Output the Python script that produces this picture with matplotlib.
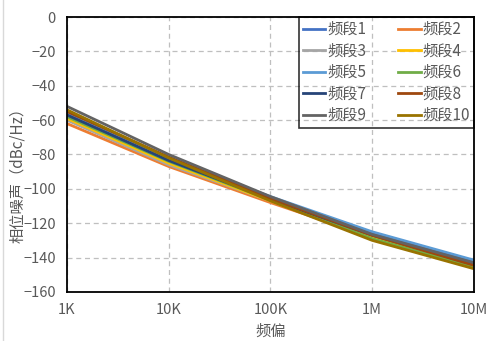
import matplotlib
matplotlib.use("Agg")
import matplotlib.pyplot as plt
from matplotlib.lines import Line2D

plt.rcParams["font.family"] = ["Noto Sans CJK SC", "DejaVu Sans"]
plt.rcParams["axes.unicode_minus"] = True

# offset frequency (Hz) and tick text
offsets = [1e3, 1e4, 1e5, 1e6, 1e7]
offset_labels = ["1K", "10K", "100K", "1M", "10M"]

band_names = ["频段1", "频段2", "频段3", "频段4", "频段5",
              "频段6", "频段7", "频段8", "频段9", "频段10"]

# phase noise per band, dBc/Hz
band1 = [-57, -83, -105, -125.5, -142]
band2 = [-62, -87, -108, -128, -144]
band3 = [-60, -86, -107, -128, -144]
band4 = [-59, -85, -107, -128.5, -145]
band5 = [-56, -83, -104.5, -125, -141.5]
band6 = [-58, -84, -106.5, -129, -145.5]
band7 = [-57, -83.5, -106, -127, -144]
band8 = [-55, -81.5, -105.5, -127, -144.5]
band9 = [-52, -80, -104.5, -126.5, -143]
band10 = [-54, -82, -107, -130, -146.5]
bands = [band1, band2, band3, band4, band5, band6, band7, band8, band9, band10]

colors = ["#4472C4", "#ED7D31", "#A5A5A5", "#FFC000", "#5B9BD5",
          "#70AD47", "#264478", "#9E480E", "#636363", "#997300"]

TEXT = "#595959"

fig = plt.figure(figsize=(4.89, 3.41), dpi=100)
ax = fig.add_axes([0.137, 0.144, 0.832, 0.806])

lines = []
for name, vals, c in zip(band_names, bands, colors):
    ln, = ax.plot(offsets, vals, color=c, linewidth=2.0, label=name)
    lines.append(ln)

ax.set_xscale("log")
ax.set_xlim(1e3, 1e7)
ax.set_ylim(-160, 0)
ax.set_xticks(offsets)
ax.set_xticklabels(offset_labels)
ax.xaxis.set_minor_locator(matplotlib.ticker.NullLocator())
ax.set_yticks(range(-160, 1, 20))

ax.grid(True, color="#BFBFBF", linestyle=(0, (4, 3)), linewidth=0.9)
ax.tick_params(length=0, labelsize=10.5, labelcolor=TEXT, pad=8)
for s in ax.spines.values():
    s.set_color("black")
    s.set_linewidth(1.3)

ax.set_xlabel("频偏", fontsize=11, color=TEXT, labelpad=4)
ax.set_ylabel("相位噪声（dBc/Hz）", fontsize=11, color=TEXT)
ax.yaxis.set_label_coords(-0.1, 0.44)

# legend reads row by row: 1 2 / 3 4 / ...
order = [0, 2, 4, 6, 8, 1, 3, 5, 7, 9]
leg = ax.legend([lines[i] for i in order], [band_names[i] for i in order],
                loc="upper right", ncol=2, bbox_to_anchor=(1.0, 1.0),
                borderaxespad=0, fontsize=11, labelcolor=TEXT,
                handlelength=1.5, handletextpad=0.1, columnspacing=2.1,
                labelspacing=0.3, borderpad=0.25, fancybox=False)
frame = leg.get_frame()
frame.set_facecolor("none")
frame.set_edgecolor("black")
frame.set_linewidth(1.2)

# thin outer border on the left edge
fig.add_artist(Line2D([3 / 489, 3 / 489], [0, 1], transform=fig.transFigure,
                      color="#D9D9D9", linewidth=1))

fig.savefig("out.png", dpi=100)
